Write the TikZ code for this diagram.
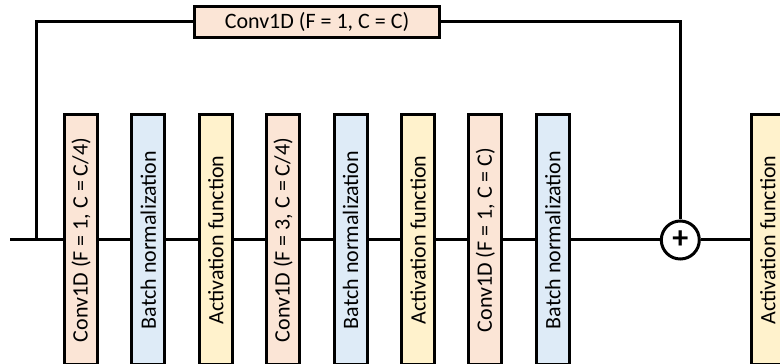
\documentclass[tikz,border=0pt]{standalone}
\usepackage{fontspec}
\setmainfont{Carlito}
\usetikzlibrary{positioning}
\definecolor{convfill}{HTML}{FBE5D6}
\definecolor{bnfill}{HTML}{DEEBF7}
\definecolor{actfill}{HTML}{FFF2CC}

\begin{document}
\begin{tikzpicture}[x=1pt,y=1pt,
			node distance=31.4pt,
			every node/.style={font=\fontsize{22}{26}\selectfont},
			blk/.style={draw=black,line width=3pt,minimum width=33pt,minimum height=250pt,inner sep=0pt},
			conv/.style={blk,fill=convfill},
			bn/.style={blk,fill=bnfill},
			act/.style={blk,fill=actfill},
			ln/.style={line width=3pt}
			]
			\useasboundingbox (0,-124) rectangle (780,240);
			\coordinate (in) at (10,0);
			\coordinate (split) at (36,0);
			\node[conv] (conv1) at (81,0) {\rotatebox{90}{Conv1D (F = 1, C = C/4)}};
			\node[bn,right=of conv1] (bn1) {\rotatebox{90}{Batch normalization}};
			\node[act,right=of bn1] (act1) {\rotatebox{90}{Activation function}};
			\node[conv,right=of act1] (conv2) {\rotatebox{90}{Conv1D (F = 3, C = C/4)}};
			\node[bn,right=of conv2] (bn2) {\rotatebox{90}{Batch normalization}};
			\node[act,right=of bn2] (act2) {\rotatebox{90}{Activation function}};
			\node[conv,right=of act2] (conv3) {\rotatebox{90}{Conv1D (F = 1, C = C)}};
			\node[bn,right=of conv3] (bn3) {\rotatebox{90}{Batch normalization}};
			\node[draw,circle,line width=3pt,minimum size=38pt,inner sep=0pt,right=89pt of bn3,
				font=\fontsize{32}{32}\selectfont\bfseries] (sum) {+};
			\node[act,right=49pt of sum] (act3) {\rotatebox{90}{Activation function}};
			\node[conv,minimum width=245pt,minimum height=31pt] (skip) at (317,218) {Conv1D (F = 1, C = C)};
			\draw[ln] (in) -- (conv1);
			\draw[ln] (conv1) -- (bn1);
			\draw[ln] (bn1) -- (act1);
			\draw[ln] (act1) -- (conv2);
			\draw[ln] (conv2) -- (bn2);
			\draw[ln] (bn2) -- (act2);
			\draw[ln] (act2) -- (conv3);
			\draw[ln] (conv3) -- (bn3);
			\draw[ln] (bn3) -- (sum);
			\draw[ln] (sum) -- (act3);
			\draw[ln] (split) |- (skip);
			\draw[ln] (skip) -| (sum);
		\end{tikzpicture}
\end{document}
